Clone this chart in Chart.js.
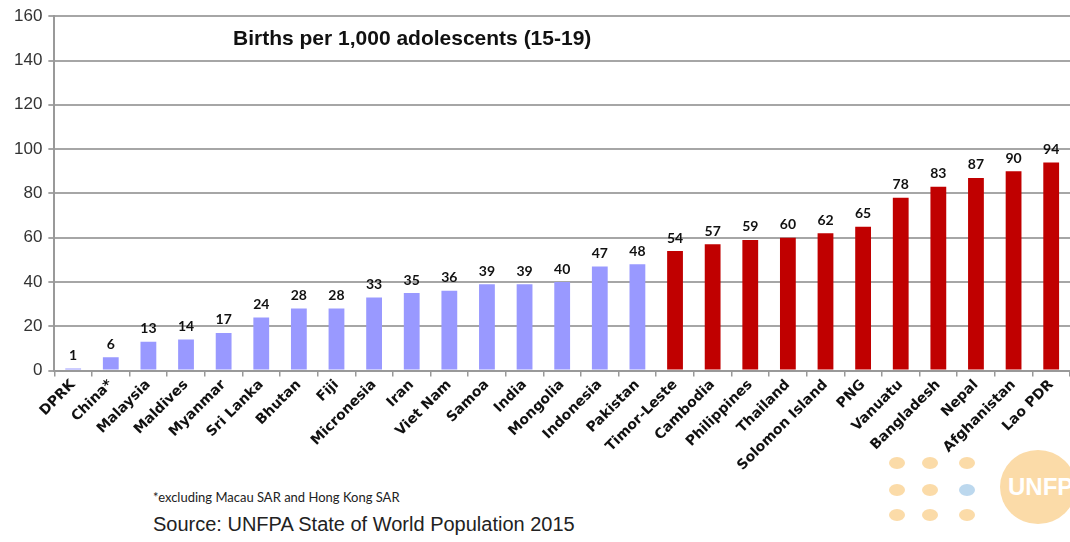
<!DOCTYPE html>
<html lang="en">
<head>
  <meta charset="UTF-8">
  <title>Births per 1,000 adolescents (15-19)</title>
  <script src="https://cdn.jsdelivr.net/npm/chart.js"></script>
  <style>
    body {
      margin: 0;
      background: #fff;
      font-family: 'Liberation Sans', Arial, sans-serif;
    }
    .wrap {
      position: relative;
      width: 1070px;
      height: 542px;
      overflow: hidden;
    }
    canvas { position: absolute; left: 0; top: 0; }
    .title {
      position: absolute;
      left: 233px;
      top: 26px;
      font-size: 21px;
      font-weight: bold;
      color: #111;
    }
    .note {
      position: absolute;
      left: 153px;
      top: 489px;
      font-family: Lato, 'Open Sans', sans-serif;
      font-size: 13px;
      color: #222;
    }
    .source {
      position: absolute;
      left: 153px;
      top: 513px;
      font-size: 20px;
      color: #222;
    }
    .dot {
      position: absolute;
      width: 16px;
      height: 12px;
      border-radius: 50%;
      background: #fbdba8;
    }
    .logo {
      position: absolute;
      left: 1000px;
      top: 450px;
      width: 76px;
      height: 74px;
      border-radius: 50%;
      background: #fbdba8;
      color: #fff;
      font-weight: bold;
      font-size: 24px;
      line-height: 74px;
      padding-left: 8px;
      box-sizing: border-box;
    }
  </style>
</head>
<body>
  <div class="wrap">
    <div id="logo"></div>
    <canvas id="chart" width="1070" height="474"></canvas>
    <div class="title">Births per 1,000 adolescents (15-19)</div>
    <div class="note">*excluding Macau SAR and Hong Kong SAR</div>
    <div class="source">Source: UNFPA State of World Population 2015</div>
  </div>

  <script>
    // landen, gesorteerd van laag naar hoog
    const countries = ['DPRK', 'China*', 'Malaysia', 'Maldives', 'Myanmar', 'Sri Lanka', 'Bhutan', 'Fiji',
      'Micronesia', 'Iran', 'Viet Nam', 'Samoa', 'India', 'Mongolia', 'Indonesia', 'Pakistan',
      'Timor-Leste', 'Cambodia', 'Philippines', 'Thailand', 'Solomon Island', 'PNG', 'Vanuatu',
      'Bangladesh', 'Nepal', 'Afghanistan', 'Lao PDR'];
    const births = [1, 6, 13, 14, 17, 24, 28, 28, 33, 35, 36, 39, 39, 40, 47, 48,
      54, 57, 59, 60, 62, 65, 78, 83, 87, 90, 94];
    const yTicks = [0, 20, 40, 60, 80, 100, 120, 140, 160];
    const highFrom = 'Timor-Leste'; // vanaf hier rode balken

    const highIndex = countries.indexOf(highFrom);
    const barColors = countries.map((c, i) => i >= highIndex ? '#c00000' : '#9999ff');

    // waarden boven de balken
    const valueLabels = {
      id: 'valueLabels',
      afterDatasetsDraw(chart) {
        const ctx = chart.ctx;
        const meta = chart.getDatasetMeta(0);
        ctx.save();
        ctx.font = 'bold 14px Lato, "Open Sans", sans-serif';
        ctx.fillStyle = '#111';
        ctx.textAlign = 'center';
        ctx.textBaseline = 'bottom';
        meta.data.forEach((bar, i) => {
          ctx.fillText(births[i], bar.x, bar.y - 6);
        });
        ctx.restore();
      }
    };

    new Chart(document.getElementById('chart').getContext('2d'), {
      type: 'bar',
      data: {
        labels: countries,
        datasets: [{
          data: births,
          backgroundColor: barColors,
          barPercentage: 0.84,
          categoryPercentage: 0.5
        }]
      },
      options: {
        responsive: false,
        animation: false,
        devicePixelRatio: 1,
        layout: { padding: { top: 4, right: 0, left: 8, bottom: 0 } },
        plugins: {
          legend: { display: false },
          tooltip: { enabled: false }
        },
        scales: {
          x: {
            grid: { drawOnChartArea: false, offset: true, tickLength: 6, color: '#999', lineWidth: 1.5 },
            border: { color: '#999', width: 2 },
            ticks: {
              autoSkip: false,
              minRotation: 45,
              maxRotation: 45,
              padding: 0,
              color: '#111',
              font: { family: '"DejaVu Sans", sans-serif', size: 14, weight: 'bold' }
            }
          },
          y: {
            min: 0,
            max: 160,
            afterBuildTicks(axis) { axis.ticks = yTicks.map(v => ({ value: v })); },
            grid: { color: '#a6a6a6', lineWidth: 2, tickLength: 6 },
            border: { color: '#999', width: 2 },
            ticks: {
              padding: 6,
              color: '#333',
              font: { family: '"Liberation Sans", Arial, sans-serif', size: 17 }
            }
          }
        }
      },
      plugins: [valueLabels]
    });

    // UNFPA logo rechtsonder
    const logo = document.getElementById('logo');
    [897, 930, 967].forEach(x => {
      [457, 484, 509].forEach(y => {
        const d = document.createElement('div');
        d.className = 'dot';
        d.style.left = (x - 8) + 'px';
        d.style.top = y + 'px';
        if (x === 967 && y === 484) d.style.background = '#bcd8ee';
        logo.appendChild(d);
      });
    });
    const circle = document.createElement('div');
    circle.className = 'logo';
    circle.textContent = 'UNFPA';
    logo.appendChild(circle);
  </script>
</body>
</html>
